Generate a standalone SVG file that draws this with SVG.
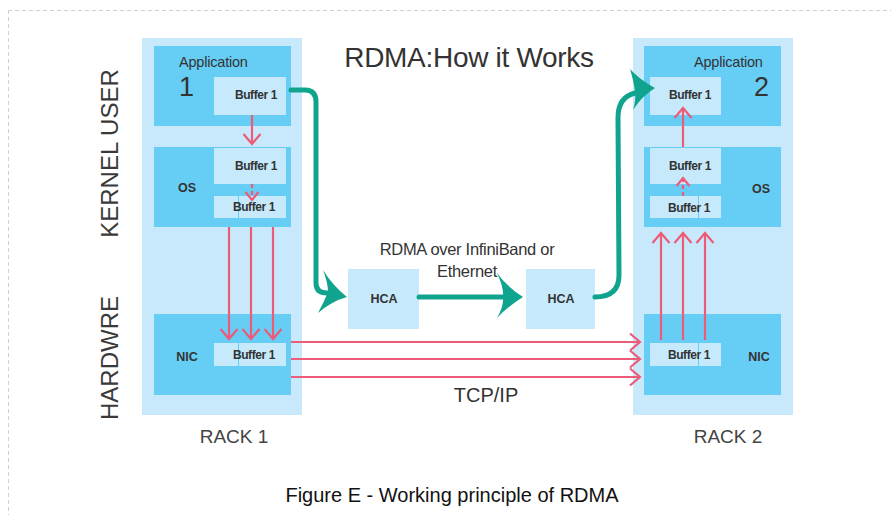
<svg xmlns="http://www.w3.org/2000/svg" width="891" height="515" viewBox="0 0 891 515">
<style>
.rack{fill:#c8e9fb}
.box{fill:#66cdf5}
.buf{fill:#c6e9fb}
.div{stroke:#66cdf5;stroke-width:1}
.t{font-family:"Liberation Sans",Arial,sans-serif;fill:#333}
.bt{font-size:12px;font-weight:bold;letter-spacing:-0.4px;text-anchor:middle}
.lb{font-size:12.5px;font-weight:bold;text-anchor:middle}
.app{font-size:14.5px;letter-spacing:-0.2px}
.num{font-size:27px}
.side{font-size:24px;fill:#3a3a3a;text-anchor:middle}
.rk{font-size:19px;fill:#444;text-anchor:middle}
.red{stroke:#ee5b79;stroke-width:2.2;fill:none}
.teal{stroke:#10a48f;stroke-width:5;fill:none;stroke-linecap:round}
.tealh{fill:#10a48f}
</style>
<defs>
<marker id="chev" markerUnits="userSpaceOnUse" markerWidth="24" markerHeight="24" viewBox="-12 -12 24 24" refX="0" refY="0" orient="auto">
<path d="M-10,-8.5 L0,0 L-10,8.5" fill="none" stroke="#ee5b79" stroke-width="2.2"/>
</marker>
<marker id="chevs" markerUnits="userSpaceOnUse" markerWidth="20" markerHeight="20" viewBox="-10 -10 20 20" refX="0" refY="0" orient="auto">
<path d="M-8,-6.5 L0,0 L-8,6.5" fill="none" stroke="#ee5b79" stroke-width="2.2"/>
</marker>
</defs>
<rect width="891" height="515" fill="#fff"/>
<g id="frame" stroke="#d0d0d0" stroke-width="1" stroke-dasharray="4 3" fill="none">
<line x1="8" y1="10.5" x2="891" y2="10.5"/>
<line x1="8.5" y1="10" x2="8.5" y2="515"/>
</g>
<g id="title"><text class="t" x="469" y="67" font-size="28" text-anchor="middle" fill="#333" letter-spacing="-0.3">RDMA:How it Works</text></g>
<g id="side-labels">
<text class="t side" transform="translate(118,153.5) rotate(-90)">KERNEL USER</text>
<text class="t side" transform="translate(118,358) rotate(-90)">HARDWRE</text>
</g>
<g id="rack1">
<rect class="rack" x="142" y="38" width="160" height="377"/>
<rect class="box" x="154" y="46" width="137" height="80"/>
<text class="t app" x="179" y="67">Application</text>
<text class="t num" x="179" y="96">1</text>
<rect class="buf" x="214" y="77" width="72" height="38"/>
<text class="t bt" x="256" y="99">Buffer 1</text>
<rect class="box" x="154" y="147" width="137" height="80"/>
<text class="t lb" x="187" y="192">OS</text>
<rect class="buf" x="214" y="148" width="72" height="36"/>
<text class="t bt" x="256" y="170">Buffer 1</text>
<rect class="buf" x="214" y="196" width="72" height="22"/>
<line class="div" x1="238.5" y1="196" x2="238.5" y2="218"/>
<text class="t bt" x="254" y="211">Buffer 1</text>
<rect class="box" x="154" y="314" width="137" height="81"/>
<text class="t lb" x="187" y="361">NIC</text>
<rect class="buf" x="214" y="343" width="72" height="23"/>
<line class="div" x1="238.5" y1="343" x2="238.5" y2="366"/>
<text class="t bt" x="254" y="359">Buffer 1</text>
<text class="t rk" x="234" y="443">RACK 1</text>
</g>
<g id="rack2">
<rect class="rack" x="633" y="38" width="160" height="377"/>
<rect class="box" x="644" y="46" width="137" height="80"/>
<text class="t app" x="694" y="67">Application</text>
<text class="t num" x="754" y="96">2</text>
<rect class="buf" x="650" y="77" width="71" height="38"/>
<text class="t bt" x="690" y="99">Buffer 1</text>
<rect class="box" x="644" y="147" width="137" height="80"/>
<text class="t lb" x="761" y="193">OS</text>
<rect class="buf" x="650" y="148" width="71" height="36"/>
<text class="t bt" x="690" y="170">Buffer 1</text>
<rect class="buf" x="650" y="196" width="71" height="22"/>
<line class="div" x1="698.5" y1="196" x2="698.5" y2="218"/>
<text class="t bt" x="689" y="212">Buffer 1</text>
<rect class="box" x="644" y="314" width="137" height="81"/>
<text class="t lb" x="759" y="361">NIC</text>
<rect class="buf" x="650" y="343" width="71" height="23"/>
<line class="div" x1="698.5" y1="343" x2="698.5" y2="366"/>
<text class="t bt" x="689" y="359">Buffer 1</text>
<text class="t rk" x="728" y="443">RACK 2</text>
</g>
<g id="hca1">
<rect class="buf" x="348" y="269" width="71" height="60"/>
<text class="t lb" x="384" y="303">HCA</text>
</g>
<g id="hca2">
<rect class="buf" x="526" y="269" width="69" height="60"/>
<text class="t lb" x="561" y="303">HCA</text>
</g>
<g id="connectors">
<line class="red" x1="252" y1="115" x2="252" y2="144" marker-end="url(#chev)"/>
<line class="red" x1="252" y1="184" x2="252" y2="200" stroke-dasharray="4 3" marker-end="url(#chevs)"/>
<line class="red" x1="229" y1="227" x2="229" y2="339" marker-end="url(#chev)"/>
<line class="red" x1="251" y1="227" x2="251" y2="339" marker-end="url(#chev)"/>
<line class="red" x1="273" y1="227" x2="273" y2="339" marker-end="url(#chev)"/>
<line class="red" x1="291" y1="342" x2="640" y2="342" marker-end="url(#chev)"/>
<line class="red" x1="291" y1="359" x2="640" y2="359" marker-end="url(#chev)"/>
<line class="red" x1="291" y1="377" x2="640" y2="377" marker-end="url(#chev)"/>
<line class="red" x1="661" y1="340" x2="661" y2="233" marker-end="url(#chev)"/>
<line class="red" x1="683" y1="340" x2="683" y2="233" marker-end="url(#chev)"/>
<line class="red" x1="705" y1="340" x2="705" y2="233" marker-end="url(#chev)"/>
<line class="red" x1="683" y1="196" x2="683" y2="178" stroke-dasharray="4 3" marker-end="url(#chevs)"/>
<line class="red" x1="683" y1="147" x2="683" y2="108" marker-end="url(#chev)"/>
<path class="teal" d="M291,90 L305,90 Q316,90 316,102 L316,283 Q316,293 327,293"/>
<path class="tealh" d="M347,297 Q333,286 323,270 Q328,283 328,292 Q324,302 318,313 Q332,301 347,297 Z"/>
<path class="teal" d="M419,297 L506,297"/>
<path class="tealh" d="M523,297 Q507,287 497,273 Q504,288 503,297 Q504,306 497,318 Q507,307 523,297 Z"/>
<path class="teal" d="M595,297 Q619,297 619,275 L618,118 Q618,97 635,93"/>
<path class="tealh" d="M655,88 Q640,80 630,69 Q634,82 635,92 Q636,101 633,110 Q642,96 655,88 Z"/>
</g>
<g id="labels">
<text class="t" x="467" y="255" font-size="16.5" text-anchor="middle" letter-spacing="-0.3">RDMA over InfiniBand or</text>
<text class="t" x="467" y="277" font-size="16.5" text-anchor="middle" letter-spacing="-0.3">Ethernet</text>
<text class="t" x="486" y="402" font-size="20" text-anchor="middle" fill="#444">TCP/IP</text>
</g>
<g id="caption"><text x="452" y="502" font-family="Liberation Sans,Arial,sans-serif" font-size="20" fill="#111" text-anchor="middle">Figure E - Working principle of RDMA</text></g>
</svg>
